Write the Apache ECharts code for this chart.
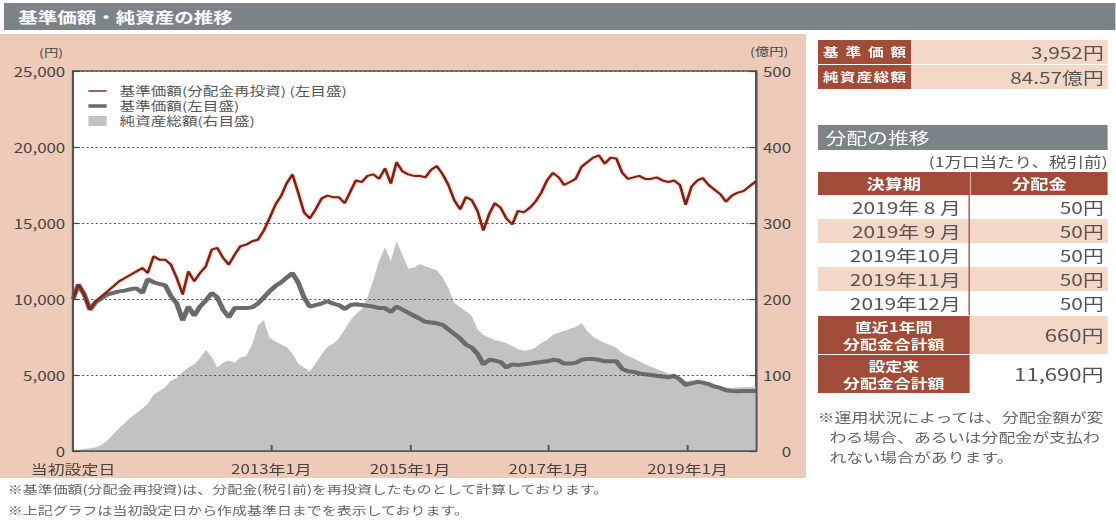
<!DOCTYPE html>
<html><head><meta charset="utf-8">
<script src="https://cdn.jsdelivr.net/npm/echarts@6/dist/echarts.min.js"></script>
<style>
html,body{margin:0;padding:0;background:#fff;width:1116px;height:532px;overflow:hidden;font-family:"Noto Sans CJK JP","Noto Sans",sans-serif;color:#555;}
#page{position:absolute;left:0;top:0;width:858.46px;height:532px;transform:scaleX(1.3);transform-origin:0 0;}
.abs{position:absolute;}
#hdr{left:3px;top:3px;width:855px;height:27px;background:#7b8489;color:#fff;font-size:15px;font-weight:bold;line-height:27px;padding-left:11px;box-sizing:border-box;}
#panel{left:0;top:34px;width:620px;height:444px;background:#eecbb8;}
#chart{left:0;top:0;width:620px;height:532px;}
.foot{left:6px;font-size:11.5px;color:#666;white-space:nowrap;line-height:16px;}
.row{display:flex;width:223px;}
.dk{background:#a04c38;color:#fff;font-weight:bold;}
.pc{background:#f3d7c7;}
.wh{background:#fff;}
.jt{text-align:justify;text-align-last:justify;}
.rt{text-align:right;padding-right:3px;box-sizing:border-box;}
</style></head>
<body>
<div id="page">
  <div id="hdr" class="abs">基準価額・純資産の推移</div>
  <div id="panel" class="abs"></div>
  <div id="chart" class="abs"></div>
  <div class="abs foot" style="top:481px;">※基準価額(分配金再投資)は、分配金(税引前)を再投資したものとして計算しております。</div>
  <div class="abs foot" style="top:502px;">※上記グラフは当初設定日から作成基準日までを表示しております。</div>

  <div class="abs" style="left:629px;top:40px;width:223px;">
    <div class="row" style="height:24px;margin-bottom:1px;">
      <div class="dk jt" style="width:72px;font-size:12px;line-height:24px;padding:0 4px;box-sizing:border-box;">基準価額</div>
      <div class="pc rt" style="flex:1;font-size:16px;line-height:24px;">3,952円</div>
    </div>
    <div class="row" style="height:24px;">
      <div class="dk jt" style="width:72px;font-size:12px;line-height:24px;padding:0 4px;box-sizing:border-box;">純資産総額</div>
      <div class="pc rt" style="flex:1;font-size:16px;line-height:24px;">84.57億円</div>
    </div>
  </div>

  <div class="abs" style="left:629px;top:125px;width:223px;height:25px;background:#7b8489;color:#fff;font-size:16px;line-height:25px;padding-left:6px;box-sizing:border-box;">分配の推移</div>
  <div class="abs" style="left:629px;top:151px;width:223px;text-align:right;font-size:13.5px;line-height:20px;">(1万口当たり、税引前)</div>

  <div class="abs" style="left:629px;top:172px;width:223px;">
    <div class="row dk" style="height:23px;font-size:14px;line-height:23px;text-align:center;">
      <div style="width:117px;border-right:1px solid #d9a99a;">決算期</div><div style="flex:1;">分配金</div>
    </div>
    <div class="row wh" style="height:24px;font-size:16px;line-height:24px;"><div class="rt" style="width:117px;padding-right:6px;border-right:1.5px solid #a04c38;">2019年 8 月</div><div class="rt" style="flex:1;">50円</div></div>
    <div class="row pc" style="height:24px;font-size:16px;line-height:24px;"><div class="rt" style="width:117px;padding-right:6px;border-right:1.5px solid #a04c38;">2019年 9 月</div><div class="rt" style="flex:1;">50円</div></div>
    <div class="row wh" style="height:24px;font-size:16px;line-height:24px;"><div class="rt" style="width:117px;padding-right:6px;border-right:1.5px solid #a04c38;">2019年10月</div><div class="rt" style="flex:1;">50円</div></div>
    <div class="row pc" style="height:24px;font-size:16px;line-height:24px;"><div class="rt" style="width:117px;padding-right:6px;border-right:1.5px solid #a04c38;">2019年11月</div><div class="rt" style="flex:1;">50円</div></div>
    <div class="row wh" style="height:24px;font-size:16px;line-height:24px;"><div class="rt" style="width:117px;padding-right:6px;border-right:1.5px solid #a04c38;">2019年12月</div><div class="rt" style="flex:1;">50円</div></div>
    <div class="row" style="height:38px;margin-top:1px;">
      <div class="dk" style="width:117px;font-size:13px;text-align:center;padding-top:2px;box-sizing:border-box;"><div style="line-height:17px;">直近1年間</div><div style="line-height:17px;">分配金合計額</div></div>
      <div class="pc rt" style="flex:1;font-size:17px;line-height:38px;">660円</div>
    </div>
    <div class="row" style="height:38px;margin-top:1px;">
      <div class="dk" style="width:117px;font-size:13px;text-align:center;padding-top:2px;box-sizing:border-box;"><div style="line-height:17px;">設定来</div><div style="line-height:17px;">分配金合計額</div></div>
      <div class="wh rt" style="flex:1;font-size:17px;line-height:38px;">11,690円</div>
    </div>
  </div>

  <div class="abs" style="left:629px;top:407px;width:226px;font-size:13px;line-height:20px;color:#666;white-space:nowrap;">
    <div>※運用状況によっては、分配金額が変</div>
    <div style="padding-left:9px;">わる場合、あるいは分配金が支払わ</div>
    <div style="padding-left:9px;">れない場合があります。</div>
  </div>
</div>
<script>
// ---- data ----
const dates = [
 '2010-02-22','2010-03-22','2010-04-22','2010-05-22','2010-06-22','2010-07-22','2010-08-22','2010-09-22','2010-10-22','2010-11-22','2010-12-22',
 '2011-01-22','2011-02-22','2011-03-22','2011-04-22','2011-05-22','2011-06-22','2011-07-22','2011-08-22','2011-09-22','2011-10-22','2011-11-22','2011-12-22',
 '2012-01-22','2012-02-22','2012-03-22','2012-04-22','2012-05-22','2012-06-22','2012-07-22','2012-08-22','2012-09-22','2012-10-22','2012-11-22','2012-12-22',
 '2013-01-22','2013-02-22','2013-03-22','2013-04-22','2013-05-22','2013-06-22','2013-07-22','2013-08-22','2013-09-22','2013-10-22','2013-11-22','2013-12-22',
 '2014-01-22','2014-02-22','2014-03-22','2014-04-22','2014-05-22','2014-06-22','2014-07-22','2014-08-22','2014-09-22','2014-10-22','2014-11-22','2014-12-22',
 '2015-01-22','2015-02-22','2015-03-22','2015-04-22','2015-05-22','2015-06-22','2015-07-22','2015-08-22','2015-09-22','2015-10-22','2015-11-22','2015-12-22',
 '2016-01-22','2016-02-22','2016-03-22','2016-04-22','2016-05-22','2016-06-22','2016-07-22','2016-08-22','2016-09-22','2016-10-22','2016-11-22','2016-12-22',
 '2017-01-22','2017-02-22','2017-03-22','2017-04-22','2017-05-22','2017-06-22','2017-07-22','2017-08-22','2017-09-22','2017-10-22','2017-11-22','2017-12-22',
 '2018-01-22','2018-02-22','2018-03-22','2018-04-22','2018-05-22','2018-06-22','2018-07-22','2018-08-22','2018-09-22','2018-10-22','2018-11-22','2018-12-22',
 '2019-01-22','2019-02-22','2019-03-22','2019-04-22','2019-05-22','2019-06-22','2019-07-22','2019-08-22','2019-09-22','2019-10-22','2019-11-22','2019-12-27'
];
// 基準価額(分配金再投資) 円
const navReinvested = [
 10000,10950,10300,9300,9850,10170,10500,10830,11160,11380,11600,
 11820,12040,11710,12810,12590,12590,12260,11380,10300,11820,11160,11710,
 12150,13250,13360,12700,12260,12920,13470,13580,13800,13900,14500,15300,
 16200,16800,17600,18200,17000,15700,15300,15900,16600,16800,16700,16700,
 16300,17100,17800,17700,18100,18200,17900,18600,17600,19000,18400,18200,
 18100,18100,18000,18500,18750,18200,17500,16500,15900,16700,16500,15800,
 14500,15600,16300,16000,15300,14900,15800,15700,16000,16400,17000,17800,
 18300,18000,17500,17700,17900,18700,19000,19300,19450,18900,19300,19250,
 18300,17900,18000,18100,17900,17900,18000,17800,17700,17800,17500,16200,
 17400,17800,17950,17500,17200,16900,16400,16800,17000,17100,17400,17750
];
// 基準価額 円
const nav = [
 10000,10950,10300,9300,9800,10050,10300,10400,10500,10550,10650,
 10700,10400,11300,11100,11000,10900,10200,9700,8600,9500,8900,9500,
 9900,10400,10100,9300,8800,9400,9400,9400,9450,9700,10100,10500,
 10850,11100,11400,11700,11100,10100,9500,9600,9700,9850,9700,9600,
 9350,9600,9650,9600,9550,9500,9400,9400,9150,9500,9300,9100,
 8900,8700,8500,8450,8400,8300,8000,7700,7400,7000,6800,6400,
 5700,6000,5950,5850,5500,5700,5650,5700,5750,5800,5850,5900,
 6000,5950,5750,5750,5800,6000,6050,6050,6000,5900,5900,5900,
 5400,5250,5200,5100,5050,5000,4950,4900,4850,4950,4700,4350,
 4450,4550,4500,4400,4250,4150,4000,3950,3930,3950,3940,3952
];
// 純資産総額 億円
const netAssets = [
 0.5,1.5,2.5,3.5,5,8,14,22,30,37,44,
 50,56,62,74,79,84,92,96,104,110,114,122,
 133,124,110,116,119,116,123,125,140,165,172,149,
 144,140,137,128,115,110,105,115,127,137,141,148,
 160,172,180,187,202,225,250,268,250,276,258,240,
 241,246,243,240,238,228,214,195,189,184,178,160,
 153,149,146,144,142,138,134,132,133,136,142,146,
 153,156,158,161,163,168,158,150,146,142,139,136,
 129,125,122,118,114,111,108,105,102,100,97,92,
 93,91,89,87,86,85,84,83,84,84,84.2,84.57
];
const tickDates = ['2010-02-22','2013-01-01','2015-01-01','2017-01-01','2019-01-01'];
const tickLabels = ['当初設定日','2013年1月','2015年1月','2017年1月','2019年1月'];
const endDate = '2019-12-27';
const seriesNames = ['基準価額(分配金再投資) (左目盛)','基準価額(左目盛)','純資産総額(右目盛)'];

function ts(s){ const p = s.split('-').map(Number); return Date.UTC(p[0], p[1]-1, p[2]); }
const tickTimes = tickDates.map(ts);
const pair = arr => dates.map((d,i) => [ts(d), arr[i]]);
const FONT = '"Noto Sans CJK JP","Noto Sans",sans-serif';

const chart = echarts.init(document.getElementById('chart'), null, {renderer:'svg'});
chart.setOption({
  animation:false,
  textStyle:{fontFamily:FONT},
  grid:{left:56.2, right:38.5, top:71, bottom:81, show:true, backgroundColor:'#fff', borderColor:'#555', borderWidth:1.5},
  legend:{
    orient:'vertical', left:63, top:80, itemWidth:14, itemHeight:10, itemGap:3,
    itemStyle:{borderWidth:0},
    textStyle:{color:'#555', fontSize:12, fontFamily:FONT, padding:[0,0,0,5]},
    data:[
      {name:seriesNames[0], icon:'path://M0,0H20V2H0Z'},
      {name:seriesNames[1], icon:'path://M0,0H20V5H0Z'},
      {name:seriesNames[2], icon:'rect'}
    ]
  },
  graphic:[
    {type:'text', right:620-48.5, top:47, style:{text:'(円)', fontSize:11, fill:'#444', fontFamily:FONT}},
    {type:'text', left:577, top:46, style:{text:'(億円)', fontSize:11, fill:'#444', fontFamily:FONT}}
  ],
  xAxis:{
    type:'value', min:ts(dates[0]), max:ts(endDate), z:10,
    axisLine:{show:true, lineStyle:{color:'#555', width:1.5}},
    axisTick:{show:true, inside:true, length:6, lineStyle:{color:'#555', width:1.5}, customValues:tickTimes.slice(1)},
    axisLabel:{
      customValues:tickTimes, color:'#444', fontSize:13, margin:11, fontFamily:FONT,
      showMinLabel:true, hideOverlap:false,
      formatter:function(v){ const i = tickTimes.findIndex(t => Math.abs(t - v) < 86400000*2); return i >= 0 ? tickLabels[i] : ''; }
    },
    splitLine:{show:false}
  },
  yAxis:[
    {type:'value', min:0, max:25000, interval:5000, position:'left', z:10,
     axisLine:{show:true, lineStyle:{color:'#555', width:1.5}},
     axisTick:{show:true, inside:true, length:5, lineStyle:{color:'#444', width:1.2}},
     axisLabel:{color:'#444', fontSize:13, margin:6, fontFamily:FONT, formatter:v => v.toLocaleString('en-US')},
     splitLine:{show:true, lineStyle:{color:'#555', width:1.2, type:[1.5,2]}}},
    {type:'value', min:0, max:500, interval:100, position:'right', z:10,
     axisLine:{show:true, lineStyle:{color:'#555', width:1.5}},
     axisTick:{show:true, inside:true, length:5, lineStyle:{color:'#444', width:1.2}},
     axisLabel:{color:'#444', fontSize:13, margin:27, align:'right', fontFamily:FONT},
     splitLine:{show:false}}
  ],
  series:[
    {name:seriesNames[2], type:'line', yAxisIndex:1, data:pair(netAssets), symbol:'none', z:1,
     itemStyle:{color:'#c2c2c2'}, lineStyle:{width:0, color:'#c2c2c2'}, areaStyle:{color:'#c2c2c2', opacity:1}},
    {name:seriesNames[1], type:'line', yAxisIndex:0, data:pair(nav), symbol:'none', z:3,
     itemStyle:{color:'#6b6b6b'}, lineStyle:{width:4, color:'#6b6b6b'}},
    {name:seriesNames[0], type:'line', yAxisIndex:0, data:pair(navReinvested), symbol:'none', z:4,
     itemStyle:{color:'#7b2212'}, lineStyle:{width:2, color:'#7b2212', shadowColor:'rgba(215,70,45,0.6)', shadowBlur:2}}
  ]
});
</script>
</body></html>
